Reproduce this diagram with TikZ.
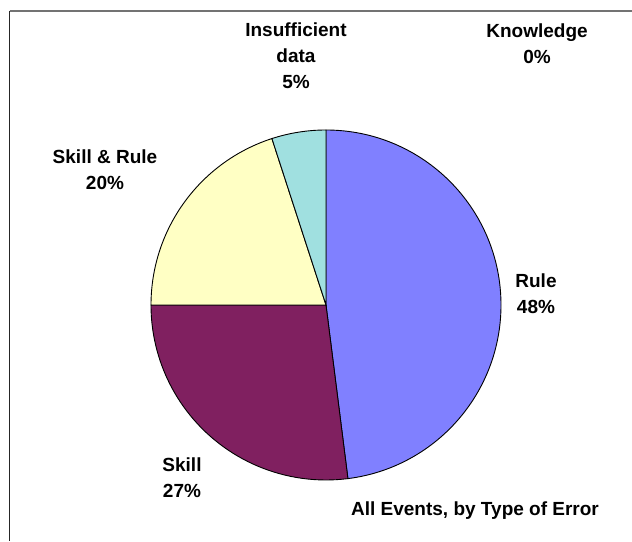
\documentclass[tikz,border=0pt]{standalone}
\usepackage{fontspec}
\setmainfont{Liberation Sans}

\definecolor{rulecol}{RGB}{128,128,255}
\definecolor{skillcol}{RGB}{128,32,96}
\definecolor{skillrulecol}{RGB}{255,255,196}
\definecolor{insuffcol}{RGB}{160,224,224}

\begin{document}
\begin{tikzpicture}[x=1pt, y=1pt,
    slice/.style={draw=black, line width=0.9pt},
    lbl/.style={font=\fontsize{19}{26}\selectfont\bfseries, align=center, inner sep=0pt}]
        \useasboundingbox (0,0) rectangle (632,541);
        % Frame (only top and left edges are visible)
        \draw[black!55, line width=1.3pt] (9.5,530) -- (632,530);
        \draw[black!85, line width=1.3pt] (9.5,530) -- (9.5,0);

        % Pie centre and radius
        \coordinate (c) at (326,236);
        \def\rad{175}

        % Slices (counterclockwise angles, 100% = 360 deg)
        \filldraw[slice, fill=rulecol] (c) -- ++(90:\rad) arc[start angle=90, end angle=-82.8, radius=\rad] -- cycle;
        \filldraw[slice, fill=skillcol] (c) -- ++(-82.8:\rad) arc[start angle=-82.8, end angle=-180, radius=\rad] -- cycle;
        \filldraw[slice, fill=skillrulecol] (c) -- ++(180:\rad) arc[start angle=180, end angle=108, radius=\rad] -- cycle;
        \filldraw[slice, fill=insuffcol] (c) -- ++(108:\rad) arc[start angle=108, end angle=90, radius=\rad] -- cycle;

        % Labels
        \node[lbl] (insuff) at (296,485) {Insufficient\\data\\5\%};
        \node[lbl] (knowledge) at (537,497.5) {Knowledge\\0\%};
        \node[lbl] (skillrule) at (105,371) {Skill \& Rule\\20\%};
        \node[lbl] (rule) at (536,247.5) {Rule\\48\%};
        \node[lbl] (skill) at (182,63) {Skill\\27\%};
        \node[lbl] (title) at (475,30) {All Events, by Type of Error};
\end{tikzpicture}
\end{document}
